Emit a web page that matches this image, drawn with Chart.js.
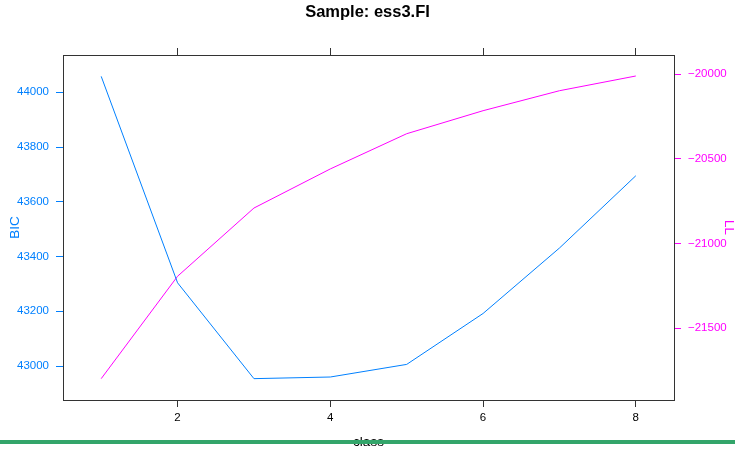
<!DOCTYPE html>
<html lang="en">
<head>
    <meta charset="UTF-8">
    <title>Sample: ess3.FI</title>
    <script src="https://cdn.jsdelivr.net/npm/chart.js"></script>
    <style>
        body {
            margin: 0;
            background: #ffffff;
        }
        .wrap {
            position: relative;
            width: 735px;
            height: 449px;
            overflow: hidden;
        }
        .bar {
            position: absolute;
            left: 0;
            top: 440px;
            width: 735px;
            height: 4px;
            background: #33a56a;
        }
    </style>
</head>
<body>
<div class="wrap">
    <canvas id="myChart" width="735" height="449"></canvas>
    <div class="bar"></div>
</div>
<script>
    // values
    const classes = [1, 2, 3, 4, 5, 6, 7, 8];
    const bicValues = [44058, 43304, 42954, 42960, 43006, 43192, 43431, 43695];
    const llValues = [-21798, -21193, -20790, -20559, -20351, -20215, -20097, -20010];
    const classTicks = [2, 4, 6, 8];
    const bicTicks = [43000, 43200, 43400, 43600, 43800, 44000];
    const llTicks = [-21500, -21000, -20500, -20000];

    const blue = '#0080ff';
    const magenta = '#ff00ff';

    Chart.defaults.font.family = "'Liberation Sans', Arial, Helvetica, sans-serif";

    function fixTicks(list) {
        return function (scale) {
            scale.ticks = list.map(v => ({ value: v }));
        };
    }
    function minus(v) {
        return v < 0 ? '\u2212' + Math.abs(v) : String(v);
    }

    const ctx = document.getElementById('myChart').getContext('2d');
    const myChart = new Chart(ctx, {
        type: 'line',
        data: {
            datasets: [
                {
                    label: 'BIC',
                    data: classes.map((c, i) => ({ x: c, y: bicValues[i] })),
                    borderColor: blue,
                    borderWidth: 1,
                    pointRadius: 0,
                    tension: 0,
                    yAxisID: 'y'
                },
                {
                    label: 'LL',
                    data: classes.map((c, i) => ({ x: c, y: llValues[i] })),
                    borderColor: magenta,
                    borderWidth: 1,
                    pointRadius: 0,
                    tension: 0,
                    yAxisID: 'y2'
                }
            ]
        },
        options: {
            responsive: false,
            animation: false,
            devicePixelRatio: 1,
            layout: { padding: 0 },
            plugins: {
                legend: { display: false },
                tooltip: { enabled: false },
                title: {
                    display: true,
                    text: 'Sample: ess3.FI',
                    color: '#000000',
                    font: { size: 16.5, weight: 'bold', lineHeight: 1.2 },
                    padding: { top: 3, bottom: 0 }
                }
            },
            scales: {
                x: {
                    type: 'linear',
                    position: 'bottom',
                    min: 0.5,
                    max: 8.5,
                    afterBuildTicks: fixTicks(classTicks),
                    afterFit: s => { s.height = 49; },
                    grid: { drawOnChartArea: false, tickLength: 7, color: '#333333' },
                    border: { color: '#333333', width: 1 },
                    ticks: { color: '#000000', font: { size: 11.5 }, padding: 4, maxRotation: 0, callback: v => String(v) },
                    title: {
                        display: true,
                        text: 'class',
                        color: '#000000',
                        font: { size: 13.5, lineHeight: 1 },
                        padding: { top: 0, bottom: 0 }
                    }
                },
                x2: {
                    type: 'linear',
                    position: 'top',
                    min: 0.5,
                    max: 8.5,
                    afterBuildTicks: fixTicks(classTicks),
                    afterFit: s => { s.height = 55 - 22.8; },
                    grid: { drawOnChartArea: false, tickLength: 7, color: '#333333' },
                    border: { color: '#333333', width: 1 },
                    ticks: { callback: () => '', padding: 0 }
                },
                y: {
                    type: 'linear',
                    position: 'left',
                    min: 42876,
                    max: 44136,
                    afterBuildTicks: fixTicks(bicTicks),
                    afterFit: s => { s.width = 63; },
                    grid: { drawOnChartArea: false, tickLength: 7, color: blue },
                    border: { color: '#333333', width: 1 },
                    ticks: { color: blue, font: { size: 11.5 }, padding: 7, callback: v => String(v) },
                    title: {
                        display: true,
                        text: 'BIC',
                        color: blue,
                        font: { size: 13.5, lineHeight: 1.2 },
                        padding: { top: 7, bottom: 0 }
                    }
                },
                y2: {
                    type: 'linear',
                    position: 'right',
                    min: -21924,
                    max: -19886,
                    afterBuildTicks: fixTicks(llTicks),
                    afterFit: s => { s.width = 61; },
                    grid: { drawOnChartArea: false, tickLength: 7, color: magenta },
                    border: { color: '#333333', width: 1 },
                    ticks: { color: magenta, font: { size: 11.5 }, padding: 7, callback: v => minus(v) },
                    title: {
                        display: true,
                        text: 'LL',
                        color: magenta,
                        font: { size: 13.5, lineHeight: 1 },
                        padding: { top: 0, bottom: 0 }
                    }
                }
            }
        }
    });
</script>
</body>
</html>
